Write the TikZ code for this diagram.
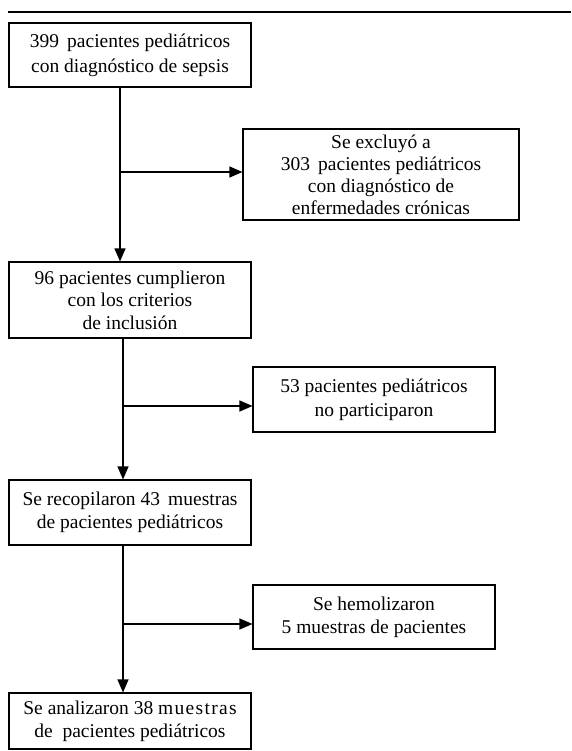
\documentclass[tikz,border=0pt]{standalone}
\usepackage{fontspec}
\setmainfont{Liberation Serif}
\usetikzlibrary{arrows.meta}
\newcommand{\ls}{\kern1.3pt}
\begin{document}
\begin{tikzpicture}[x=1pt,y=-1pt,
  box/.style={draw,line width=1.1pt,rectangle,align=center,inner sep=0pt,
    font=\fontsize{19.5}{23}\selectfont},
  arr/.style={line width=1.1pt,-{Triangle[length=13pt,width=11pt]}}]
\useasboundingbox (0,0) rectangle (571,751);
\draw[line width=1.2pt] (8,12) -- (571,12);
\node[box,minimum width=242pt,minimum height=64pt,font=\fontsize{19.5}{25}\selectfont] (b1) at (130,55)
  {399\, pacientes pediátricos\\con diagnóstico de sepsis};
\node[box,minimum width=276pt,minimum height=91pt,font=\fontsize{19.5}{22}\selectfont] (ex) at (381,174.5)
  {Se excluyó a\\303\, pacientes pediátricos\\con diagnóstico de\\enfermedades crónicas};
\node[box,minimum width=242pt,minimum height=76pt,font=\fontsize{19.5}{22.5}\selectfont] (b2) at (130,300)
  {96 pacientes cumplieron\\con los criterios\\de inclusión};
\node[box,minimum width=242pt,minimum height=65pt,font=\fontsize{19.5}{24}\selectfont] (np) at (374,399.5)
  {53 pacientes pediátricos\\no participaron};
\node[box,minimum width=242pt,minimum height=65pt] (b3) at (130,512.5)
  {Se recopilaron 43\, muestras\\de pacientes pediátricos};
\node[box,minimum width=242pt,minimum height=64pt] (hm) at (374,617)
  {Se hemolizaron\\5 muestras de pacientes};
\node[box,minimum width=242pt,minimum height=56pt] (b4) at (130,721)
  {Se analizaron 38 m\ls u\ls e\ls s\ls t\ls r\ls a\ls s\\de\ \ pacientes pediátricos};
\coordinate (j1) at (120,172);
\coordinate (j2) at (123,406);
\coordinate (j3) at (123,624);
\draw[arr] (b1.south -| j1) -- (b2.north -| j1);
\draw[arr] (j1) -- (j1 -| ex.west);
\draw[arr] (b2.south -| j2) -- (b3.north -| j2);
\draw[arr] (j2) -- (j2 -| np.west);
\draw[arr] (b3.south -| j3) -- (b4.north -| j3);
\draw[arr] (j3) -- (j3 -| hm.west);
\end{tikzpicture}
\end{document}
